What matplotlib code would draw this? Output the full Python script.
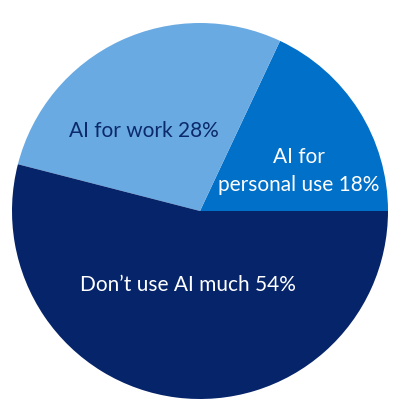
import matplotlib.pyplot as plt

# slice order: counterclockwise starting at 3 o'clock
labels = ["AI for\npersonal use 18%", "AI for work 28%", "Don\u2019t use AI much 54%"]
shares = [18, 28, 54]
colors = ["#0070c9", "#6aaae2", "#062469"]
text_colors = ["white", "#0b2a6b", "white"]
# label positions in pixels from top-left of the 400x400 image
label_xy = [(299, 171), (144, 131), (188, 285)]

plt.rcParams['font.family'] = ['Lato', 'DejaVu Sans']

fig = plt.figure(figsize=(4, 4), dpi=100)
ax = fig.add_axes([0, 0, 1, 1])

ax.pie(shares, colors=colors, startangle=0, counterclock=True,
       center=(200, 400 - 211), radius=188,
       wedgeprops=dict(linewidth=0))

for lab, (x, y), c in zip(labels, label_xy, text_colors):
    ax.text(x, 400 - y, lab, color=c, fontsize=15, ha='center', va='center',
            linespacing=1.45)

ax.set_xlim(0, 400)
ax.set_ylim(0, 400)
ax.set_aspect('equal')
ax.axis('off')

fig.savefig('out.png', dpi=100, facecolor='white')
